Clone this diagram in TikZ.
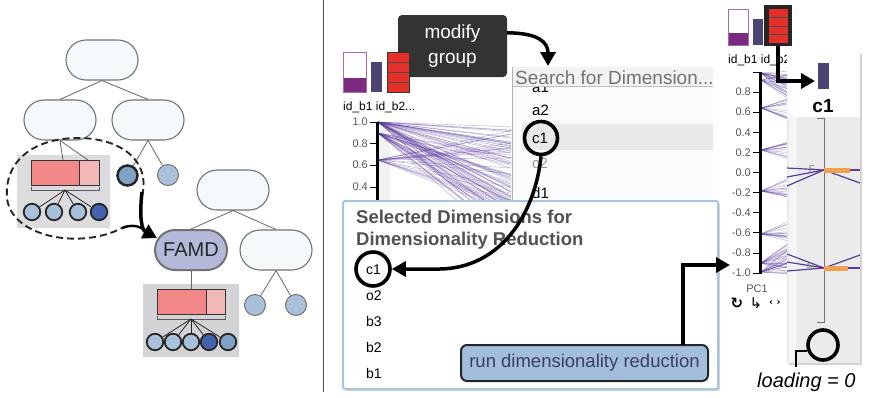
\documentclass[tikz,border=0pt]{standalone}
\usepackage{fontspec}
\setmainfont{Liberation Sans}
\newfontfamily\symfont{DejaVu Sans}
\usetikzlibrary{arrows.meta,shadows,calc}
\definecolor{nodefill}{HTML}{F4F9FC}
\definecolor{nodeline}{HTML}{737373}
\definecolor{grpA}{HTML}{DCDCDF}
\definecolor{grpB}{HTML}{D4D4D7}
\definecolor{redA}{HTML}{F28888}
\definecolor{redB}{HTML}{F2B7B7}
\definecolor{leafL}{HTML}{A8C0DA}
\definecolor{leafD}{HTML}{4462B0}
\definecolor{leafM}{HTML}{7EA2C8}
\definecolor{famdc}{HTML}{B4B9DA}
\definecolor{pline}{HTML}{5A3A9E}
\definecolor{barpurp}{HTML}{7A2A80}
\definecolor{barpurpline}{HTML}{A868AE}
\definecolor{barslate}{HTML}{4A4472}
\definecolor{barred}{HTML}{E5302A}
\definecolor{darkbox}{HTML}{333333}
\definecolor{selborder}{HTML}{A8C4DE}
\definecolor{btnfill}{HTML}{A3BEDC}
\definecolor{btntext}{HTML}{3C3C6A}
\definecolor{orangebar}{HTML}{F0A050}
\definecolor{panelgray}{HTML}{EBEBEB}
\definecolor{searchbg}{HTML}{FAFBFC}
\definecolor{headbg}{HTML}{F0F2F3}
\definecolor{rowhl}{HTML}{E9E9E9}
\definecolor{ticktext}{HTML}{555555}
\newcommand\fsz[2]{\fontsize{#1}{#2}\selectfont}
\newcommand\pfan[6]{\foreach \k in {1,...,#1}{\pgfmathsetmacro\ye{#5+rnd*#6}\draw[fanline] (#2,#3) -- (#4,\ye);}}
\begin{document}
\begin{tikzpicture}[x=1pt,y=-1pt,
  treenode/.style={draw=nodeline, line width=1.1pt, fill=nodefill, rounded corners=20pt, minimum width=72pt, minimum height=40pt, inner sep=0pt},
  leaf/.style={circle, draw=black!85, line width=1.8pt, minimum size=16.5pt, inner sep=0pt},
  bigleaf/.style={circle, draw=nodeline, line width=1pt, fill=leafL, minimum size=21pt, inner sep=0pt},
  edge/.style={draw=black!60, line width=0.8pt},
  leafedge/.style={draw=black!85, line width=0.8pt},
  thickarrow/.style={draw=black, line width=3.5pt, -{Triangle[length=14pt,width=15pt]}},
  fanline/.style={draw=pline, line width=0.6pt, opacity=0.33},
  plink/.style={draw=pline, line width=1.2pt},
  tick/.style={draw=black, line width=0.8pt},
  ticklbl/.style={anchor=east, inner sep=0pt, text=ticktext, font=\fsz{11}{13}},
  listitem/.style={anchor=base west, inner sep=0pt, font=\fsz{15}{18}},
  selitem/.style={anchor=base west, inner sep=0pt, font=\fsz{14}{17}},
  ringnode/.style={circle, draw=black, line width=3.6pt, minimum size=33pt, inner sep=0pt}
]
\useasboundingbox (0,0) rectangle (870,397);
\pgfmathsetseed{11}
% ================= LEFT: tree =================
\node[treenode] (r1) at (102,60) {};
\node[treenode] (l1) at (60,120) {};
\node[treenode] (l2) at (148,120) {};
\draw[edge] (r1.south) -- (l1.north);
\draw[edge] (r1.south) -- (l2.north);
% group 1
\fill[grpA] (17,155) rectangle (110,228);
\draw[line width=1pt, draw=black!80, fill=redA] (31,160) rectangle (79,185);
\draw[line width=1pt, draw=black!80, fill=redB] (79,160) rectangle (99,185);
\draw[black!65, line width=0.8pt] (31,187) -- (31,190) -- (99,190) -- (99,187);
\coordinate (b1a) at (63,160);
\coordinate (b1b) at (88,160);
\coordinate (br1) at (65,190);
\draw[edge] (l1.south) -- (b1a);
\draw[edge] (l1.south) -- (b1b);
\node[leaf, fill=leafL] (c11) at (32,212) {};
\node[leaf, fill=leafL] (c12) at (54,212) {};
\node[leaf, fill=leafL] (c13) at (78,212) {};
\node[leaf, fill=leafD] (c14) at (99,212) {};
\foreach \c in {c11,c12,c13,c14} \draw[leafedge] (br1) -- (\c);
\node[leaf, fill=leafM, minimum size=20pt, line width=2.5pt] (m1) at (127.5,175.5) {};
\node[bigleaf] (m2) at (168,175) {};
\draw[edge] (l2.south) -- (m1);
\draw[edge] (l2.south) -- (m2);
% dashed loop and arrow
\draw[black!85, line width=1.9pt, dash pattern=on 7pt off 4pt]
  (142,196) .. controls (151,160) and (120,138) .. (78,138)
  .. controls (35,138) and (4,160) .. (7,198)
  .. controls (11,237) and (80,250) .. (122,228);
\node[treenode] (r2) at (233,190) {};
\node[treenode, fill=famdc, draw=black!55, line width=2pt, font=\fsz{20}{24}, text=black!85] (famd) at (191,250) {FAMD};
\node[treenode] (n3) at (276,250) {};
\coordinate (famdin) at (157,238);
\draw[black, line width=2.4pt] (122,228) .. controls (132,224) and (140,226) .. (146,231);
\draw[thickarrow] (142,192) .. controls (139,218) and (142,230) .. (famdin);
\draw[edge] (r2.south) -- (famd.north);
\draw[edge] (r2.south) -- (n3.north);
% group 2
\fill[grpB] (143,284) rectangle (239,357);
\draw[line width=1pt, draw=black!80, fill=redA] (157,289) rectangle (206,314);
\draw[line width=1pt, draw=black!80, fill=redB] (206,289) rectangle (225,314);
\draw[black!65, line width=0.8pt] (157,316) -- (157,319) -- (225,319) -- (225,316);
\coordinate (b2a) at (191,289);
\coordinate (br2) at (191,319);
\draw[edge] (famd.south) -- (b2a);
\node[leaf, fill=leafL] (c21) at (155,342) {};
\node[leaf, fill=leafL] (c22) at (173,342) {};
\node[leaf, fill=leafL] (c23) at (191,342) {};
\node[leaf, fill=leafD] (c24) at (209,342) {};
\node[leaf, fill=leafM] (c25) at (228,342) {};
\foreach \c in {c21,c22,c23,c24,c25} \draw[leafedge] (br2) -- (\c);
\node[bigleaf] (n31) at (255,305) {};
\node[bigleaf] (n32) at (296,305) {};
\draw[edge] (n3.south) -- (n31);
\draw[edge] (n3.south) -- (n32);
% separator
\draw[black!70, line width=0.8pt] (323,0) -- (323,392);
% ================= MIDDLE =================
\node[fill=darkbox, rounded corners=4pt, minimum width=109pt, minimum height=62pt, text=white, align=center, font=\fsz{19}{25}] (mod) at (452.5,46) {modify\\group};
% mini bars
\draw[barpurpline, line width=1pt, fill=white] (343,52) rectangle (366,92);
\fill[barpurp] (343,78) rectangle (366,92);
\draw[barpurpline, line width=1pt] (343,52) rectangle (366,92);
\fill[barslate] (371,62) rectangle (382,92);
\draw[black!80, line width=0.8pt, fill=barred] (387,52) rectangle (409,92);
\foreach \yy in {62,72,82} \draw[black!70, line width=0.8pt] (387,\yy) -- (409,\yy);
\node[anchor=base west, inner sep=0pt, font=\fsz{12}{14}] (idlblA) at (343,110) {id\_b1 id\_b2...};
% parallel coordinates
\fill[black!5] (379,122) rectangle (390,200);
\begin{scope}
\clip (378,118) rectangle (511,200);
\pfan{45}{378}{122}{511}{122}{120}
\pfan{28}{378}{133}{511}{150}{110}
\pfan{20}{378}{160}{511}{130}{90}
\end{scope}
\draw[black, line width=3pt] (377,122) -- (377,202);
\foreach \yy/\lb in {122/1.0,143.5/0.8,165/0.6,187/0.4}{
  \draw[tick] (370,\yy) -- (377,\yy);
  \node[ticklbl] at (368,\yy) {\lb};}
% search list
\fill[searchbg] (512,86) rectangle (713,200);
\begin{scope}
\clip (512,86) rectangle (713,200);
\node[listitem] (ia1) at (532,92) {a1};
\end{scope}
\node[listitem] (ia2) at (532,115.5) {a2};
\fill[rowhl] (522,124) rectangle (713,150);
\node[listitem] (ic1) at (532,143.5) {c1};
\node[listitem, text=black!40] (ic2) at (532,168.5) {c2};
\node[listitem] (id1) at (532,198.5) {d1};
\fill[headbg] (512,67) rectangle (713,86);
\draw[black!25, line width=0.6pt] (512,86) -- (713,86);
\node[anchor=base west, inner sep=0pt, text=black!55, font=\fsz{19}{22}] (search) at (515,84) {Search for Dimension...};
\draw[black!30, line width=0.8pt] (512,67) -- (512,200);
\draw[thickarrow] ([yshift=-18pt]mod.north east) .. controls (538,33) and (548,42) .. (548,66);
\node[ringnode] (cc1) at (541,138) {};
% selected panel
\node[draw=selborder, line width=2pt, fill=white, rounded corners=2pt,
  drop shadow={shadow xshift=2pt, shadow yshift=-2pt, opacity=0.35},
  minimum width=375pt, minimum height=188pt, anchor=north west] (sel) at (342,200) {};
\node[anchor=base west, inner sep=0pt, text=black!68, font=\bfseries\fsz{18.5}{22}] (t1) at (356,223.5) {Selected Dimensions for};
\node[anchor=base west, inner sep=0pt, text=black!68, font=\bfseries\fsz{18.5}{22}] (t2) at (356,245.5) {Dimensionality Reduction};
\node[selitem] (s1) at (366,274) {c1};
\node[selitem] (s2) at (366,300) {o2};
\node[selitem] (s3) at (366,326) {b3};
\node[selitem] (s4) at (366,352) {b2};
\node[selitem] (s5) at (366,378) {b1};
\node[ringnode, minimum size=34pt] (sc1) at (373,269) {};
\draw[thickarrow] (cc1.south) .. controls (535,215) and (500,268) .. (440,269) -- (sc1.east);
\node[fill=btnfill, draw=black!85, line width=2pt, rounded corners=6pt, minimum width=247pt, minimum height=36pt, inner sep=0pt, text=btntext, font=\fsz{18.5}{22}] (btn) at (584.5,363) {run dimensionality reduction};
\coordinate (btnout) at (683,345);
\coordinate (pcin) at (730,265);
\draw[thickarrow] (btnout) |- (pcin);
% ================= RIGHT =================
\draw[barpurpline, line width=1pt, fill=white] (728,9) rectangle (748,45);
\fill[barpurp] (728,33) rectangle (748,45);
\draw[barpurpline, line width=1pt] (728,9) rectangle (748,45);
\fill[barslate] (753,19) rectangle (763,45);
\fill[black!85] (764,5) rectangle (792,46);
\fill[barred] (768.5,9) rectangle (787.5,42.5);
\foreach \yy in {17.5,26,34.5} \draw[black!70, line width=0.8pt] (768.5,\yy) -- (787.5,\yy);
\coordinate (rbout) at (778,46);
\node[anchor=base west, inner sep=0pt, font=\fsz{12}{14}] (idlblB) at (728,63) {id\_b1 id\_b2...};
% PC axis fans
\begin{scope}
\clip (761,66) rectangle (790,276);
\pfan{18}{761}{73}{790}{70}{30}
\pfan{12}{761}{80}{790}{74}{30}
\pfan{15}{761}{108}{790}{98}{22}
\pfan{15}{761}{150}{790}{138}{24}
\pfan{15}{761}{191}{790}{178}{24}
\pfan{15}{761}{234}{790}{220}{22}
\pfan{18}{761}{263}{790}{240}{34}
\pfan{18}{761}{272}{790}{245}{30}
\end{scope}
\draw[black, line width=3pt] (760,72) -- (760,274);
\draw[tick] (753,72) -- (760,72);
\foreach \v/\lb in {1/0.8,2/0.6,3/0.4,4/0.2,5/0.0,6/-0.2,7/-0.4,8/-0.6,9/-0.8,10/-1.0}{
  \pgfmathsetmacro\yy{72+\v*20.1}
  \draw[tick] (753,\yy) -- (760,\yy);
  \node[ticklbl] at (751,\yy) {\lb};}
\node[anchor=base, inner sep=0pt, text=ticktext, font=\fsz{11}{13}] (pc1) at (757,292) {PC1};
\node[anchor=base, inner sep=0pt, font=\symfont\bfseries\fsz{15}{17}] (ic1sym) at (737,308) {↻};
\node[anchor=base, inner sep=0pt, font=\symfont\fsz{15}{17}] (ic2sym) at (756,308) {↳};
\node[anchor=base, inner sep=0pt, font=\symfont\bfseries\fsz{10}{12}] (ic3sym) at (775,305) {‹ ›};
% c1 panel
\node[fill=white, minimum width=73pt, minimum height=311pt, inner sep=0pt, anchor=north west,
  drop shadow={shadow xshift=2pt, shadow yshift=-2pt, opacity=0.35}] (c1panel) at (787,52) {};
\fill[panelgray] (787,117) rectangle (860,363);
\fill[black!4] (789,117) rectangle (797,363);
\node[fill=barslate, minimum width=11pt, minimum height=26pt, inner sep=0pt] (c1bar) at (823.5,76) {};
\node[anchor=base, inner sep=0pt, font=\bfseries\fsz{19}{22}] (c1lbl) at (823,112) {c1};
\coordinate (c1in) at (815,81);
\draw[thickarrow] (rbout) |- (c1in);
\draw[black!55, line width=1pt] (817,118) -- (824,118) -- (824,322) -- (817,322);
\draw[plink] (787,168) -- (824,170);
\draw[plink] (787,177) -- (824,170);
\draw[plink] (787,186) -- (824,170);
\draw[plink] (824,170) -- (860,170);
\draw[plink] (824,170) -- (860,183);
\draw[plink] (787,254) -- (824,268);
\draw[plink] (787,262) -- (824,268);
\draw[plink] (787,271) -- (824,268);
\draw[plink] (824,268) -- (860,255);
\draw[plink] (824,268) -- (860,268);
\fill[orangebar] (824,167.5) rectangle (850,172.5);
\fill[orangebar] (824,265.5) rectangle (848,270.5);
\node[inner sep=0pt, text=black!50, font=\fsz{10}{12}] (flbl) at (812,169) {F};
\node[inner sep=0pt, text=black!50, font=\fsz{10}{12}] (mlbl) at (811,267) {M};
\node[circle, draw=black, line width=3.6pt, minimum size=30pt, inner sep=0pt] (load) at (823,345) {};
\coordinate (loadout) at (796,367);
\draw[black, line width=1.8pt] (load.200) -| (loadout);
\node[anchor=base west, inner sep=0pt, font=\itshape\fsz{20}{24}] (loadlbl) at (757,387) {loading = 0};
\end{tikzpicture}
\end{document}
